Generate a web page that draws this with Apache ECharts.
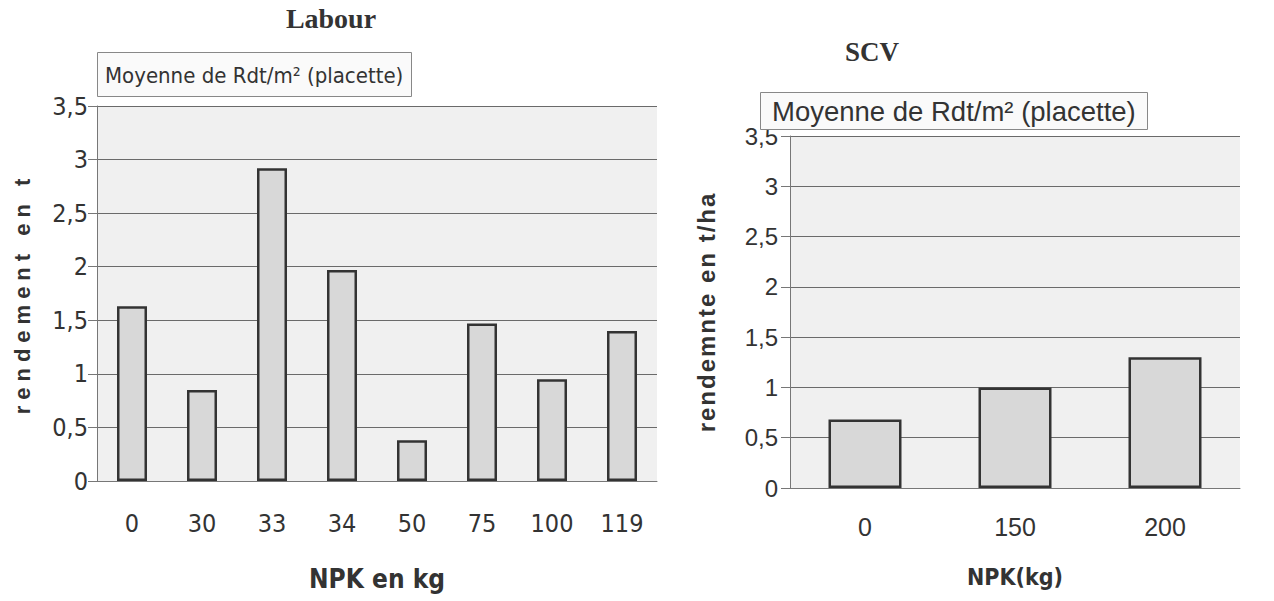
<!DOCTYPE html>
<html><head><meta charset="utf-8">
<script src="https://cdn.jsdelivr.net/npm/echarts@6/dist/echarts.min.js"></script>
<style>html,body{margin:0;padding:0;background:#fff}#c{width:1274px;height:601px}</style>
</head><body><div id="c"></div>
<script>
const catsLabour = ['0','30','33','34','50','75','100','119'];
const valsLabour = [1.63,0.85,2.92,1.97,0.38,1.47,0.95,1.40];
const catsSCV = ['0','150','200'];
const valsSCV = [0.68,1.00,1.30];
const titleLabour = 'Labour';
const titleSCV = 'SCV';
const boxText = 'Moyenne de Rdt/m² (placette)';
const yNameLabour = 'rendement en t';
const yNameSCV = 'rendemnte en t/ha';
const xNameLabour = 'NPK en kg';
const xNameSCV = 'NPK(kg)';

const NARROW = "'Liberation Sans Narrow','Arial Narrow','DejaVu Sans Condensed',sans-serif";
const SANS = "'Liberation Sans',Arial,sans-serif";
const SERIF = "'Liberation Serif','Times New Roman',serif";
const fmt = v => String(v).replace('.', ',');
const chart = echarts.init(document.getElementById('c'), null, {renderer:'svg'});
const barStyle = {color:'#d8d8d8', borderColor:'#333', borderWidth:2.5};
function yAxis(gi, name, gap, font, fs, nameFs, margin){
  return {type:'value', gridIndex:gi, min:0, max:3.5, interval:0.5,
    name:name, nameLocation:'middle', nameGap:gap, nameRotate:90,
    nameTextStyle:{fontFamily:SANS, fontWeight:'bold', fontSize:nameFs, color:'#333'},
    axisLine:{show:true, lineStyle:{color:'#777', width:1}},
    axisTick:{show:true, length:9, lineStyle:{color:'#777'}},
    axisLabel:{formatter:fmt, fontFamily:font, fontSize:fs, color:'#333', margin:margin},
    splitLine:{show:true, lineStyle:{color:'#6a6a6a', width:1}}};
}
chart.setOption({
  animation:false,
  title:[
    {text:boxText, left:97, top:52, padding:[12,8,11,8], borderColor:'#888', borderWidth:1, backgroundColor:'#fafafa',
     textStyle:{fontFamily:NARROW, fontWeight:'normal', fontSize:22, color:'#333'}},
    {text:boxText, left:760, top:92, padding:[5,12,5,12], borderColor:'#888', borderWidth:1, backgroundColor:'#fafafa',
     textStyle:{fontFamily:SANS, fontWeight:'normal', fontSize:27.5, color:'#333'}}
  ],
  graphic:[
    {type:'text', x:331, y:18, style:{text:titleLabour, align:'center', verticalAlign:'middle', fontSize:28, fontWeight:'bold', fontFamily:SERIF, fill:'#333'}},
    {type:'text', x:872, y:52, style:{text:titleSCV, align:'center', verticalAlign:'middle', fontSize:27, fontWeight:'bold', fontFamily:SERIF, fill:'#333'}}
  ],
  grid:[
    {left:97, top:106, width:560, height:375, show:true, backgroundColor:'#f0f0f0', borderWidth:0},
    {left:790, top:136, width:450, height:352, show:true, backgroundColor:'#f0f0f0', borderWidth:0}
  ],
  xAxis:[
    {type:'category', gridIndex:0, data:catsLabour, name:xNameLabour, nameLocation:'middle', nameGap:85,
     nameTextStyle:{fontFamily:NARROW, fontWeight:'bold', fontSize:26, color:'#333'},
     axisLine:{lineStyle:{color:'#777'}}, axisTick:{length:8, lineStyle:{color:'#777'}},
     axisLabel:{fontFamily:NARROW, fontSize:25, color:'#333', margin:30}},
    {type:'category', gridIndex:1, data:catsSCV, name:xNameSCV, nameLocation:'middle', nameGap:77,
     nameTextStyle:{fontFamily:NARROW, fontWeight:'bold', fontSize:23, color:'#333'},
     axisLine:{lineStyle:{color:'#777'}}, axisTick:{length:8, lineStyle:{color:'#777'}},
     axisLabel:{fontFamily:SANS, fontSize:25, color:'#333', margin:26}}
  ],
  yAxis:[ yAxis(0, yNameLabour, 64, NARROW, 25, 22, 9), yAxis(1, yNameSCV, 72, SANS, 24, 24, 12) ],
  series:[
    {type:'bar', xAxisIndex:0, yAxisIndex:0, data:valsLabour, barWidth:30, itemStyle:barStyle},
    {type:'bar', xAxisIndex:1, yAxisIndex:1, data:valsSCV, barWidth:73, itemStyle:barStyle}
  ]
});
// widen letter spacing of the y-axis names as in the reference
document.querySelectorAll('#c text').forEach(t=>{
  if (t.textContent === yNameLabour) t.setAttribute('letter-spacing','6');
  if (t.textContent === yNameSCV) t.setAttribute('letter-spacing','2');
});
</script></body></html>
